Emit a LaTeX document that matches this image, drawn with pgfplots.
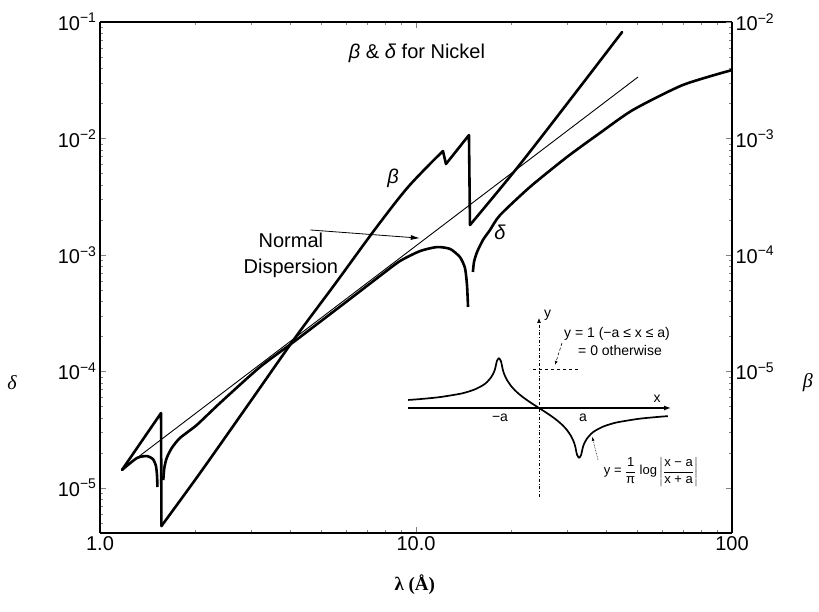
\documentclass[border=0pt]{standalone}
\usepackage{amsmath}
\usepackage{fontspec}
\setmainfont{Liberation Sans}
\newfontfamily\serif{Liberation Serif}
\usepackage{pgfplots}
\pgfplotsset{compat=1.18}
\usetikzlibrary{arrows.meta}
\newcommand{\ee}[1]{10\textsuperscript{−#1}}

\begin{document}
\begin{tikzpicture}
% delta axis (left) with lambda
\begin{axis}[at={(0,0)}, anchor=south west,
  scale only axis, width=632pt, height=511pt,
  xmode=log, ymode=log, xmin=1, xmax=100,
  tick label style={font=\fontsize{20}{24}\selectfont},
  axis line style={line width=1.1pt},
  major tick length=6pt, minor tick length=3pt,
  ymin=4.11e-6, ymax=0.1, axis y line*=left,
  xtick={1,10,100}, xticklabels={1.0,10.0,100},
  minor xtick={2,3,4,5,6,7,8,9,20,30,40,50,60,70,80,90},
  ytick={1e-5,1e-4,1e-3,1e-2,1e-1},
  yticklabels={\ee{5},\ee{4},\ee{3},\ee{2},\ee{1}},
  minor ytick={5e-6,6e-6,7e-6,8e-6,9e-6,2e-5,3e-5,4e-5,5e-5,6e-5,7e-5,8e-5,9e-5,
    2e-4,3e-4,4e-4,5e-4,6e-4,7e-4,8e-4,9e-4,2e-3,3e-3,4e-3,5e-3,6e-3,7e-3,8e-3,9e-3,
    2e-2,3e-2,4e-2,5e-2,6e-2,7e-2,8e-2,9e-2},
  xlabel={{\serif\bfseries\fontsize{19}{22}\selectfont λ (Å)}},
  every axis x label/.style={at={(rel axis cs:0.498,-0.102)}, anchor=center},
  ylabel={{\serif\itshape\fontsize{20}{24}\selectfont δ}},
  every axis y label/.style={at={(rel axis cs:-0.139,0.294)}, anchor=center},
]
% normal dispersion
\addplot[line width=0.9pt] coordinates {(1.2,1.514e-5) (50.4,3.37e-2)};
% delta, below K edge
\addplot[line width=2.6pt, smooth, tension=0.4, line join=round] coordinates {
  (1.174,1.43e-5) (1.309,1.81e-5) (1.409,1.88e-5) (1.471,1.77e-5)
  (1.503,1.55e-5) (1.515,1.29e-5) (1.520,1.02e-5)};
% delta, K edge to L edge
\addplot[line width=2.6pt, smooth, tension=0.4, line join=round] coordinates {
  (1.586,1.17e-5) (1.598,1.49e-5) (1.626,1.81e-5) (1.686,2.20e-5) (1.791,2.69e-5)
  (2.023,3.47e-5) (2.398,5.37e-5) (3.209,1.093e-4) (4.14,1.83e-4) (6.18,4.19e-4)
  (7.69,6.61e-4) (8.90,8.88e-4) (10.30,1.081e-3) (11.65,1.17e-3) (12.82,1.127e-3)
  (13.77,9.61e-4) (14.29,7.73e-4) (14.50,5.52e-4) (14.61,3.58e-4)};
% delta, above L edge
\addplot[line width=2.6pt, smooth, tension=0.4, line join=round] coordinates {
  (15.14,7.15e-4) (15.26,8.71e-4) (15.60,1.06e-3) (16.30,1.35e-3) (17.15,1.64e-3)
  (18.45,2.20e-3) (22.95,3.84e-3) (30.05,6.94e-3) (38.2,1.115e-2) (48.6,1.76e-2)
  (69.9,2.88e-2) (100,3.87e-2)};
\node[font=\fontsize{20}{24}\selectfont] at (rel axis cs:0.5016,0.9393)
  {\textit{β} \& \textit{δ} for Nickel};
\node[font=\fontsize{20}{26}\selectfont, align=center] at (rel axis cs:0.302,0.544)
  {Normal\\Dispersion};
\draw[-{Latex[length=9pt,width=5pt]}, line width=0.8pt]
  (rel axis cs:0.333,0.593) -- (rel axis cs:0.506,0.577);
\node[font=\fontsize{20}{24}\selectfont\itshape] at (rel axis cs:0.4636,0.6947) {β};
\node[font=\fontsize{20}{24}\selectfont\itshape] at (rel axis cs:0.6329,0.589) {δ};
\end{axis}

% beta axis (right)
\begin{axis}[at={(0,0)}, anchor=south west,
  scale only axis, width=632pt, height=511pt,
  xmode=log, ymode=log, xmin=1, xmax=100,
  tick label style={font=\fontsize{20}{24}\selectfont},
  axis line style={line width=1.1pt},
  major tick length=6pt,
  ymin=4.11e-7, ymax=1e-2, axis y line*=right, axis x line=none,
  ytick={1e-6,1e-5,1e-4,1e-3,1e-2},
  yticklabels={,\ee{5},\ee{4},\ee{3},\ee{2}},
  ylabel={{\serif\itshape\fontsize{20}{24}\selectfont β}},
  every axis y label/.style={at={(rel axis cs:1.12,0.294)}, anchor=center},
]
% beta, K edge
\addplot[line width=2.6pt, line join=round, line cap=round] coordinates {
  (1.174,1.43e-6) (1.56,4.40e-6) (1.565,4.72e-7)};
% beta, between the edges
\addplot[line width=2.6pt, smooth, tension=0.5, line cap=round] coordinates {
  (1.565,4.72e-7) (2.073,1.345e-6) (2.984,5.47e-6) (4.14,1.94e-5) (5.543,5.64e-5)
  (7.152,1.456e-4) (8.58,2.79e-4) (9.57,4.0e-4) (10.91,5.81e-4) (12.17,7.81e-4)};
% beta, L edges
\addplot[line width=2.6pt, line join=round, line cap=round] coordinates {
  (12.17,7.81e-4) (12.44,6.04e-4) (14.71,1.07e-3) (14.82,1.81e-4)};
% beta, above L edge
\addplot[line width=2.6pt, smooth, tension=0.5, line cap=round] coordinates {
  (14.82,1.81e-4) (21.0,5.69e-4) (30.7,2.14e-3) (44.9,8.20e-3)};
\end{axis}

% inset: Hilbert transform of a box
\begin{axis}[at={(299pt,-23pt)}, anchor=south west, scale only axis,
  width=280pt, height=240pt, xmin=-3.5, xmax=3.5, ymin=-3.7, ymax=2.3,
  hide axis, clip=false]
\addplot[line width=1.3pt, -{Latex[length=7pt,width=5pt]}] coordinates {(-3.28,0) (3.3,0)};
\addplot[line width=0.7pt, dash dot, -{Latex[length=5pt,width=4pt]}] coordinates {(0,-2.225) (0,2.25)};
\addplot[line width=0.7pt, dashed] coordinates {(-0.15,0.975) (1.0,0.975)};
\addplot[line width=1.7pt, smooth, tension=0.5] coordinates {
  (-3.27,0.201) (-3,0.2206) (-2.5,0.2697) (-2,0.3497) (-1.8,0.3988) (-1.6,0.4667)
  (-1.4,0.5703) (-1.3,0.6484) (-1.2,0.7633) (-1.15,0.8476) (-1.1,0.9691) (-1.05,1.182)
  (-1,1.25)};
\addplot[line width=1.7pt, smooth, tension=0.5] coordinates {
  (-1,1.25) (-0.95,1.166) (-0.9,0.9372) (-0.85,0.7997) (-0.8,0.6994) (-0.7,0.5522)
  (-0.6,0.4413) (-0.5,0.3497) (-0.4,0.2697) (-0.3,0.197) (-0.2,0.1291) (-0.1,0.0639)
  (0,0) (0.1,-0.0639) (0.2,-0.1291) (0.3,-0.197) (0.4,-0.2697) (0.5,-0.3497)
  (0.6,-0.4413) (0.7,-0.5522) (0.8,-0.6994) (0.85,-0.7997) (0.9,-0.9372) (0.95,-1.166)
  (1,-1.25)};
\addplot[line width=1.7pt, smooth, tension=0.5] coordinates {
  (1,-1.25) (1.05,-1.182) (1.1,-0.9691) (1.15,-0.8476) (1.2,-0.7633) (1.3,-0.6484)
  (1.4,-0.5703) (1.6,-0.4667) (1.8,-0.3988) (2,-0.3497) (2.5,-0.2697) (3,-0.2206)
  (3.22,-0.2045)};
\draw[line width=0.6pt, densely dashed, -{Latex[length=4pt,width=3pt]}]
  (axis cs:0.575,1.625) -- (axis cs:0.4,1.075);
\draw[line width=0.6pt, densely dotted, -{Latex[length=4pt,width=3pt]}]
  (axis cs:1.475,-1.3) -- (axis cs:1.33,-0.72);
\node[font=\fontsize{14}{16}\selectfont, inner sep=1pt, anchor=west] at (axis cs:0.6,1.85) {y = 1 (−a ≤ x ≤ a)};
\node[font=\fontsize{14}{16}\selectfont, inner sep=1pt, anchor=west] at (axis cs:0.95,1.45) {= 0 otherwise};
\node[font=\fontsize{14}{16}\selectfont, inner sep=1pt, anchor=west] at (axis cs:0.1,2.325) {y};
\node[font=\fontsize{14}{16}\selectfont, inner sep=1pt] at (axis cs:2.95,0.22) {x};
\node[font=\fontsize{14}{16}\selectfont, inner sep=1pt] at (axis cs:-0.975,-0.24) {−a};
\node[font=\fontsize{14}{16}\selectfont, inner sep=1pt] at (axis cs:1.1,-0.24) {a};
\node[font=\fontsize{13}{15}\selectfont, inner sep=1pt] at (axis cs:2.8,-1.6)
  {$\text{y =}\;\dfrac{\text{1}}{\text{π}}\;\text{log}\left|\dfrac{\text{x − a}}{\text{x + a}}\right|$};
\end{axis}
\pgfresetboundingbox
\path (-100pt,-79pt) rectangle (719pt,533pt);
\end{tikzpicture}
\end{document}
